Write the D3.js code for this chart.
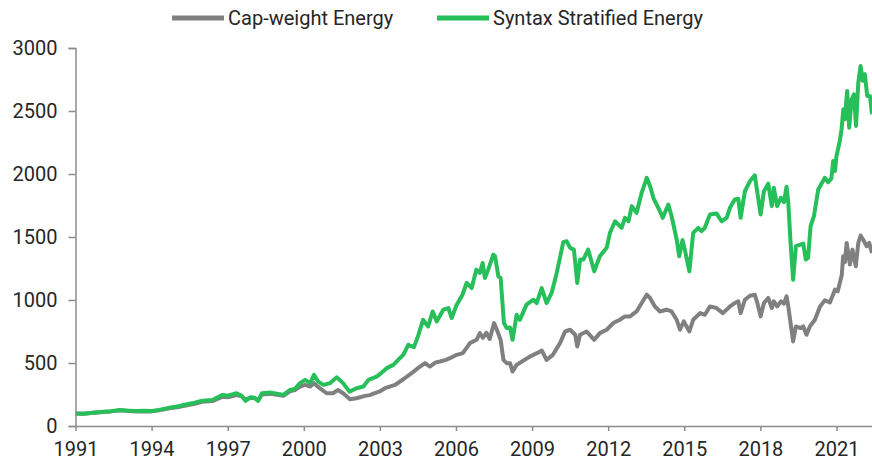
<!DOCTYPE html>
<html>
<head>
<meta charset="utf-8">
<script src="https://cdn.jsdelivr.net/npm/d3@7"></script>
<style>
  body { margin: 0; background: #fff; }
  svg text { font-family: Roboto, "Noto Sans", sans-serif; fill: #262626; }
</style>
</head>
<body>
<div id="chart"></div>
<script>
'use strict';

var seriesNames = ["Cap-weight Energy", "Syntax Stratified Energy"];
var seriesColors = ["#808080", "#26bf5a"];
var xTickYears = [1991, 1994, 1997, 2000, 2003, 2006, 2009, 2012, 2015, 2018, 2021];
var yTickValues = [0, 500, 1000, 1500, 2000, 2500, 3000];

// [decimal year, index level]
var capWeight = [
  [1991.0, 100], [1991.3, 97], [1991.6, 103], [1992.1, 112], [1992.4, 116], [1992.75, 124],
  [1993.1, 119], [1993.4, 116], [1993.7, 118], [1994.0, 116], [1994.3, 124], [1994.7, 140],
  [1995.0, 148], [1995.4, 165], [1995.7, 176], [1996.0, 192], [1996.4, 198], [1996.8, 232],
  [1997.0, 228], [1997.35, 245], [1997.55, 235], [1997.7, 210], [1997.9, 225], [1998.05, 222],
  [1998.2, 205], [1998.35, 250], [1998.7, 255], [1999.0, 245], [1999.2, 240], [1999.45, 275],
  [1999.65, 285], [1999.85, 313], [2000.05, 326], [2000.25, 313], [2000.4, 340], [2000.63, 300],
  [2000.9, 260], [2001.15, 260], [2001.35, 286], [2001.55, 260], [2001.82, 212], [2002.08, 220],
  [2002.41, 239], [2002.6, 245], [2002.8, 260], [2003.0, 275], [2003.2, 300], [2003.6, 326],
  [2003.98, 379], [2004.25, 419], [2004.5, 459], [2004.78, 499], [2004.97, 472], [2005.2, 505],
  [2005.37, 512], [2005.6, 525], [2005.76, 538], [2006.03, 565], [2006.27, 578], [2006.55, 658],
  [2006.81, 684], [2006.94, 737], [2007.06, 700], [2007.2, 740], [2007.33, 690], [2007.5, 817],
  [2007.6, 770], [2007.76, 684], [2007.87, 525], [2008.0, 499], [2008.13, 499], [2008.23, 432],
  [2008.39, 485], [2008.6, 512], [2008.91, 551], [2009.19, 578], [2009.38, 599], [2009.57, 525],
  [2009.82, 565], [2010.1, 658], [2010.3, 750], [2010.5, 764], [2010.7, 724], [2010.78, 631],
  [2010.89, 724], [2011.15, 750], [2011.45, 684], [2011.67, 737], [2011.94, 764], [2012.2, 817],
  [2012.46, 843], [2012.66, 870], [2012.86, 870], [2013.12, 909], [2013.32, 976], [2013.52, 1042],
  [2013.65, 1016], [2013.84, 949], [2014.04, 909], [2014.3, 923], [2014.5, 909], [2014.7, 843],
  [2014.83, 764], [2014.98, 830], [2015.2, 750], [2015.35, 843], [2015.62, 896], [2015.81, 883],
  [2016.01, 949], [2016.27, 936], [2016.52, 896], [2016.8, 949], [2016.99, 976], [2017.13, 989],
  [2017.22, 896], [2017.39, 1002], [2017.59, 1034], [2017.78, 1042], [2017.88, 976], [2018.01, 870],
  [2018.14, 976], [2018.31, 1016], [2018.45, 936], [2018.53, 989], [2018.66, 949], [2018.81, 989],
  [2018.93, 971], [2019.03, 1029], [2019.1, 949], [2019.19, 817], [2019.29, 671], [2019.4, 790],
  [2019.58, 777], [2019.69, 790], [2019.82, 724], [2019.95, 790], [2020.15, 843], [2020.35, 949],
  [2020.54, 997], [2020.74, 981], [2020.94, 1082], [2021.05, 1069], [2021.21, 1201], [2021.26, 1347],
  [2021.33, 1300], [2021.4, 1453], [2021.53, 1281], [2021.63, 1400], [2021.76, 1268], [2021.86, 1453],
  [2021.95, 1512], [2022.05, 1480], [2022.19, 1427], [2022.29, 1453], [2022.4, 1374]
];

var stratified = [
  [1991.0, 100], [1991.3, 98], [1991.6, 104], [1992.1, 114], [1992.4, 118], [1992.75, 127],
  [1993.1, 122], [1993.4, 119], [1993.7, 121], [1994.0, 119], [1994.3, 128], [1994.7, 146],
  [1995.0, 155], [1995.4, 172], [1995.7, 185], [1996.0, 201], [1996.4, 207], [1996.8, 247],
  [1997.0, 240], [1997.35, 260], [1997.55, 240], [1997.7, 199], [1997.9, 228], [1998.05, 225],
  [1998.2, 199], [1998.35, 260], [1998.7, 265], [1999.0, 255], [1999.2, 247], [1999.45, 286],
  [1999.65, 295], [1999.85, 340], [2000.05, 366], [2000.25, 340], [2000.4, 406], [2000.57, 352],
  [2000.77, 326], [2001.03, 340], [2001.3, 387], [2001.55, 340], [2001.8, 273], [2002.08, 300],
  [2002.35, 313], [2002.55, 366], [2002.87, 392], [2003.05, 420], [2003.27, 459], [2003.53, 485],
  [2003.75, 530], [2003.92, 565], [2004.12, 644], [2004.34, 626], [2004.5, 711], [2004.7, 843],
  [2004.9, 790], [2005.08, 909], [2005.24, 830], [2005.5, 923], [2005.7, 936], [2005.83, 857],
  [2006.03, 963], [2006.25, 1040], [2006.42, 1135], [2006.62, 1095], [2006.8, 1241], [2006.94, 1215],
  [2007.05, 1294], [2007.14, 1175], [2007.27, 1241], [2007.47, 1360], [2007.54, 1347], [2007.67, 1188],
  [2007.76, 1175], [2007.89, 817], [2008.0, 777], [2008.13, 782], [2008.23, 684], [2008.39, 883],
  [2008.52, 843], [2008.78, 963], [2009.05, 1002], [2009.18, 976], [2009.38, 1095], [2009.57, 976],
  [2009.77, 1056], [2009.97, 1215], [2010.23, 1459], [2010.36, 1467], [2010.5, 1414], [2010.65, 1400],
  [2010.78, 1135], [2010.89, 1321], [2011.02, 1321], [2011.21, 1400], [2011.45, 1228], [2011.67, 1347],
  [2011.94, 1414], [2012.07, 1533], [2012.27, 1625], [2012.53, 1573], [2012.66, 1652], [2012.8, 1625],
  [2012.93, 1745], [2013.12, 1692], [2013.32, 1851], [2013.52, 1970], [2013.65, 1904], [2013.78, 1811],
  [2014.04, 1705], [2014.15, 1652], [2014.37, 1758], [2014.5, 1665], [2014.7, 1480], [2014.8, 1347],
  [2014.93, 1475], [2015.02, 1400], [2015.2, 1228], [2015.35, 1533], [2015.55, 1573], [2015.68, 1546],
  [2015.81, 1573], [2016.01, 1679], [2016.27, 1687], [2016.47, 1625], [2016.67, 1652], [2016.8, 1732],
  [2016.99, 1798], [2017.13, 1803], [2017.22, 1652], [2017.39, 1864], [2017.59, 1944], [2017.78, 1989],
  [2017.88, 1851], [2018.01, 1679], [2018.14, 1864], [2018.31, 1923], [2018.45, 1745], [2018.53, 1891],
  [2018.66, 1745], [2018.81, 1811], [2018.93, 1777], [2019.03, 1899], [2019.1, 1772], [2019.19, 1453],
  [2019.29, 1161], [2019.4, 1427], [2019.58, 1440], [2019.69, 1448], [2019.79, 1321], [2019.88, 1334],
  [2019.98, 1586], [2020.11, 1665], [2020.28, 1877], [2020.54, 1970], [2020.67, 1935], [2020.8, 1965],
  [2020.87, 2103], [2020.94, 2023], [2021.0, 2143], [2021.13, 2262], [2021.2, 2355], [2021.27, 2514],
  [2021.33, 2434], [2021.42, 2659], [2021.5, 2368], [2021.6, 2593], [2021.69, 2633], [2021.77, 2381],
  [2021.86, 2726], [2021.95, 2858], [2022.03, 2740], [2022.12, 2792], [2022.21, 2620], [2022.32, 2620],
  [2022.4, 2474]
];

var width = 872,
    height = 461;

var margin = {top: 48, right: 0, bottom: 35, left: 75.5},
    chartWidth = width - margin.left - margin.right,
    chartHeight = height - margin.top - margin.bottom;

var svg = d3.select("#chart").append("svg")
  .attr("width", width)
  .attr("height", height);

var chart = svg.append("g")
  .attr("transform", "translate(" + margin.left + "," + margin.top + ")");

var x = d3.scaleLinear()
  .domain([1991, 2022.4])
  .range([0, chartWidth]);

var y = d3.scaleLinear()
  .domain([0, 3000])
  .range([chartHeight, 0]);

var line = d3.line()
  .x(function(d) { return x(d[0]); })
  .y(function(d) { return y(d[1]); });

[capWeight, stratified].forEach(function(series, i) {
  chart.append("path")
    .datum(series)
    .attr("fill", "none")
    .attr("stroke", seriesColors[i])
    .attr("stroke-width", 4)
    .attr("stroke-linejoin", "round")
    .attr("d", line);
});

var xAxis = chart.append("g")
  .attr("class", "xAxis")
  .attr("transform", "translate(0," + chartHeight + ")")
  .call(d3.axisBottom(x).tickValues(xTickYears).tickFormat(d3.format("d"))
    .tickSize(5).tickSizeOuter(0).tickPadding(11));

var yAxis = chart.append("g")
  .attr("class", "yAxis")
  .call(d3.axisLeft(y).tickValues(yTickValues).tickFormat(d3.format("d"))
    .tickSize(7).tickPadding(11));

[xAxis, yAxis].forEach(function(ax) {
  ax.selectAll("path, line").attr("stroke", "#8c8c8c").attr("stroke-width", 1.5);
  ax.selectAll("text").attr("font-size", 20).attr("fill", "#262626")
    .style("font-family", "Roboto, sans-serif");
});

var legend = svg.append("g");
var legendX = [172, 437];

seriesNames.forEach(function(name, i) {
  var item = legend.append("g")
    .attr("transform", "translate(" + legendX[i] + ",18)");
  item.append("line")
    .attr("x1", 0).attr("x2", 52)
    .attr("stroke", seriesColors[i])
    .attr("stroke-width", 5);
  item.append("text")
    .attr("x", 56)
    .attr("y", 7)
    .attr("font-size", 20)
    .text(name);
});
</script>
</body>
</html>
